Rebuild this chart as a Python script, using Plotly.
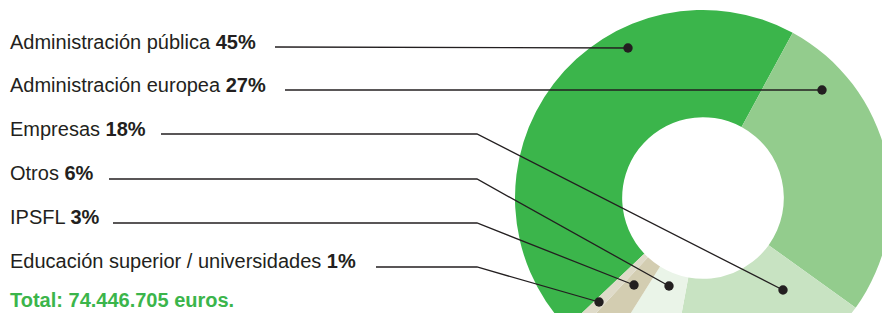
import plotly.graph_objects as go

# ---- data ----
categories = [
    "Administración pública",
    "Administración europea",
    "Empresas",
    "Otros",
    "IPSFL",
    "Educación superior / universidades",
]
shares = [45, 27, 18, 6, 3, 1]
colors = ["#3bb54b", "#93cc8d", "#c8e3c2", "#eaf4e8", "#d3cdb1", "#dfdbc9"]
total_label = "Total: 74.446.705 euros."

# ---- layout (pixel geometry of the page) ----
W, H = 900, 400
cx, cy, R = 703, 198, 188
hole = 0.43

# label text vertical centres, leader start x, bend x, dot position (pixels)
label_y = [42, 85, 129, 173, 217, 261]
line_y = [47, 90, 134, 179, 223, 267]
line_x0 = [275, 285, 161, 109, 113, 376]
bend = [False, False, True, True, True, True]
bend_x = 477
dots = [(628, 48), (822, 90), (783, 290), (669, 286), (634, 285), (599, 302)]
total_y = 300

def px(x):
    return x / W

def py(y):
    return 1 - y / H

fig = go.Figure(
    go.Pie(
        labels=categories,
        values=shares,
        sort=False,
        direction="clockwise",
        rotation=226.5,
        hole=hole,
        marker=dict(colors=colors, line=dict(width=0)),
        textinfo="none",
        hoverinfo="skip",
        showlegend=False,
        domain=dict(x=[px(cx - R), px(cx + R)], y=[py(cy + R), py(cy - R)]),
    )
)

ink = "#231f20"
shapes = []
annotations = []
for i, (cat, v) in enumerate(zip(categories, shares)):
    annotations.append(dict(
        x=px(8), y=py(label_y[i]), xref="paper", yref="paper",
        xanchor="left", yanchor="middle", showarrow=False,
        text=f"{cat} <b>{v}%</b>",
        font=dict(family="Liberation Sans, Arial, sans-serif", size=20, color=ink),
    ))
    dx, dy = dots[i]
    if bend[i]:
        path = (f"M {px(line_x0[i])} {py(line_y[i])} L {px(bend_x)} {py(line_y[i])} "
                f"L {px(dx)} {py(dy)}")
    else:
        path = f"M {px(line_x0[i])} {py(line_y[i])} L {px(dx)} {py(dy)}"
    shapes.append(dict(type="path", xref="paper", yref="paper", path=path,
                       line=dict(color=ink, width=1.3)))
    r = 4.7
    shapes.append(dict(type="circle", xref="paper", yref="paper",
                       x0=px(dx - r), x1=px(dx + r), y0=py(dy + r), y1=py(dy - r),
                       fillcolor=ink, line=dict(width=0)))

annotations.append(dict(
    x=px(8), y=py(total_y), xref="paper", yref="paper",
    xanchor="left", yanchor="middle", showarrow=False,
    text=f"<b>{total_label}</b>",
    font=dict(family="Liberation Sans, Arial, sans-serif", size=20, color="#3bb54b"),
))

fig.update_layout(
    width=W, height=H,
    margin=dict(l=0, r=0, t=0, b=0),
    paper_bgcolor="white", plot_bgcolor="white",
    shapes=shapes, annotations=annotations,
)

fig.write_html(
    "out.html",
    config={"displayModeBar": False},
    post_script="document.documentElement.style.overflow='hidden';"
                "document.body.style.overflow='hidden';document.body.style.margin='0';",
)
